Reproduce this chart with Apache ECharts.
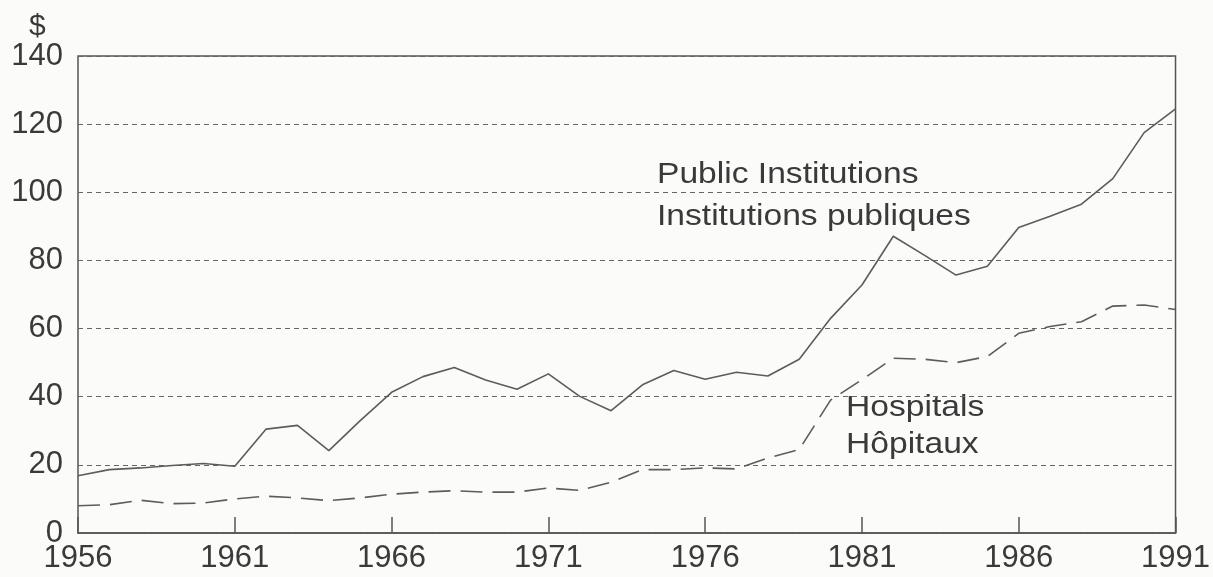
<!DOCTYPE html>
<html>
<head>
<meta charset="utf-8">
<script src="https://cdn.jsdelivr.net/npm/echarts@6/dist/echarts.min.js"></script>
<style>
  html, body { margin: 0; padding: 0; background: #fbfbfa; }
  #main { width: 1213px; height: 577px; }
</style>
</head>
<body>
<div id="main"></div>
<script>
// years on the x axis
var years = [];
for (var y = 1956; y <= 1991; y++) years.push(String(y));

// $ per capita
var publicInst = [16.8, 18.6, 19.1, 19.8, 20.4, 19.6, 30.5, 31.6, 24.2, 33.0,
  41.3, 45.9, 48.6, 44.9, 42.2, 46.7, 40.1, 35.9, 43.5, 47.7,
  45.1, 47.2, 46.1, 51.0, 63.0, 72.8, 87.1, 81.5, 75.7, 78.3,
  89.7, 93.0, 96.5, 104.0, 117.5, 124.5];

var hospitals = [8.0, 8.3, 9.6, 8.6, 8.8, 10.0, 10.8, 10.3, 9.5, 10.3,
  11.4, 12.0, 12.4, 12.0, 12.0, 13.2, 12.5, 14.9, 18.6, 18.6,
  19.1, 18.8, 22.0, 24.5, 39.0, 45.0, 51.3, 51.0, 50.0, 51.8,
  58.6, 60.6, 62.0, 66.6, 66.9, 65.6];

var yTicks = { min: 0, max: 140, step: 20 };

var txt = '#3a3a3a';
var ink = '#5c5c5c';
var fontFam = '"Liberation Sans", Arial, sans-serif';

var myChart = echarts.init(document.getElementById('main'));

// text sitting inside the plot, a bit wider like the scanned original
function note(str, x, y) {
  return {
    type: 'text', x: x, y: y, scaleX: 1.12,
    style: { text: str, fill: txt, font: '30px ' + fontFam, verticalAlign: 'middle' }
  };
}

var option = {
  backgroundColor: '#fbfbfa',
  animation: false,
  grid: {
    left: 78, right: 32, top: 56, bottom: 44,
    show: true,
    borderColor: '#555',
    borderWidth: 1.5,
    backgroundColor: 'transparent'
  },
  xAxis: {
    type: 'category',
    data: years,
    boundaryGap: false,
    axisLine: { show: true, lineStyle: { color: '#555', width: 1.5 } },
    axisTick: { show: true, inside: true, length: 16, interval: 4, lineStyle: { color: '#555', width: 1.5 } },
    axisLabel: { interval: 4, margin: 10, color: txt, fontSize: 31, fontFamily: fontFam },
    splitLine: { show: false }
  },
  yAxis: {
    type: 'value',
    min: yTicks.min, max: yTicks.max, interval: yTicks.step,
    axisLine: { show: false },
    axisTick: { show: false },
    axisLabel: { margin: 15, color: txt, fontSize: 31, fontFamily: fontFam },
    splitLine: { show: true, lineStyle: { color: '#666', width: 1.2, type: [5, 4] } }
  },
  series: [{
    name: 'Public Institutions',
    type: 'line',
    data: publicInst,
    showSymbol: false,
    lineStyle: { color: ink, width: 1.6 }
  }, {
    name: 'Hospitals',
    type: 'line',
    data: hospitals,
    showSymbol: false,
    lineStyle: { color: ink, width: 1.6, type: [22, 10] }
  }],
  graphic: [
    { type: 'text', left: 29, top: 12, style: { text: '$', fill: txt, font: '30px ' + fontFam } },
    note('Public Institutions', 657, 175),
    note('Institutions publiques', 657, 217),
    note('Hospitals', 846, 408),
    note('Hôpitaux', 846, 445)
  ]
};

myChart.setOption(option);
window.onresize = function () {
  myChart.resize()
}
</script>
</body>
</html>
